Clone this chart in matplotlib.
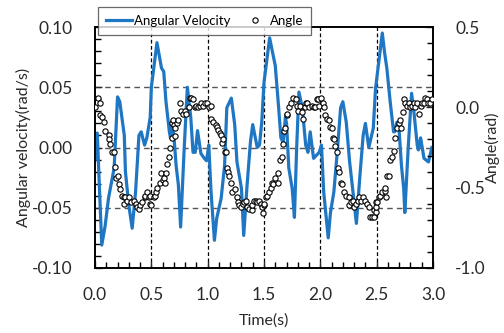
import matplotlib
matplotlib.use("Agg")
import matplotlib.pyplot as plt
from matplotlib.ticker import MultipleLocator

plt.rcParams['font.family'] = ['Lato', 'DejaVu Sans']

# Angular velocity (rad/s)
vel_t = [0.00, 0.02, 0.04, 0.06, 0.09, 0.12, 0.17, 0.20, 0.22, 0.26, 0.27, 0.30, 0.33, 0.36, 0.39,
         0.41, 0.44, 0.46, 0.49, 0.50, 0.55, 0.59, 0.61, 0.63, 0.66, 0.67, 0.68, 0.70, 0.72, 0.74,
         0.76, 0.79, 0.81, 0.82, 0.85, 0.87, 0.89, 0.91, 0.94, 0.97, 0.99, 1.01, 1.03, 1.06, 1.08,
         1.12, 1.15, 1.17, 1.21, 1.24, 1.26, 1.30, 1.32, 1.35, 1.38, 1.40, 1.44, 1.46, 1.48, 1.50,
         1.55, 1.58, 1.60, 1.63, 1.65, 1.67, 1.69, 1.70, 1.72, 1.75, 1.77, 1.79, 1.81, 1.84, 1.87,
         1.89, 1.91, 1.94, 1.97, 1.99, 2.01, 2.03, 2.07, 2.09, 2.12, 2.15, 2.18, 2.20, 2.23, 2.26,
         2.29, 2.32, 2.35, 2.38, 2.40, 2.43, 2.47, 2.49, 2.55, 2.57, 2.59, 2.62, 2.65, 2.66, 2.68,
         2.70, 2.72, 2.74, 2.75, 2.78, 2.81, 2.83, 2.86, 2.87, 2.89, 2.92, 2.96, 2.99]
vel_v = [-0.010, 0.012, -0.035, -0.081, -0.065, -0.042, -0.017, 0.042, 0.038, 0.010, -0.020, -0.048,
         -0.067, -0.037, 0.010, 0.013, 0.002, 0.008, 0.025, 0.050, 0.087, 0.066, 0.063, 0.038, 0.013,
         0.008, 0.019, 0.010, -0.015, -0.031, -0.066, -0.004, 0.033, 0.050, 0.025, -0.004, -0.004,
         0.014, -0.005, -0.009, -0.011, 0.002, -0.037, -0.077, -0.059, -0.042, -0.015, 0.033, 0.041,
         0.019, -0.012, -0.034, -0.073, -0.031, 0.005, 0.019, 0.000, 0.002, 0.021, 0.054, 0.091,
         0.077, 0.068, 0.033, 0.008, 0.004, 0.025, 0.020, -0.017, -0.034, -0.058, 0.000, 0.046,
         0.033, 0.002, -0.004, 0.013, -0.009, -0.006, -0.004, 0.002, -0.037, -0.075, -0.054, -0.037,
         -0.004, 0.033, 0.038, 0.021, -0.012, -0.037, -0.063, -0.025, 0.010, 0.020, 0.000, 0.016,
         0.049, 0.095, 0.079, 0.066, 0.038, 0.013, 0.013, 0.021, 0.013, -0.015, -0.034, -0.054,
         0.000, 0.045, 0.030, 0.002, -0.002, 0.008, -0.009, -0.012, 0.000]

# Angle (rad)
ang_t = [0.00, 0.03, 0.04, 0.04, 0.06, 0.08, 0.09, 0.12, 0.12, 0.13, 0.15, 0.17, 0.18, 0.19, 0.20,
         0.21, 0.22, 0.24, 0.26, 0.27, 0.26, 0.28, 0.30, 0.32, 0.35, 0.36, 0.37, 0.39, 0.40, 0.42,
         0.44, 0.44, 0.46, 0.48, 0.49,
         0.49, 0.50, 0.52, 0.53, 0.54, 0.55, 0.58, 0.59, 0.60, 0.61, 0.62, 0.63, 0.64, 0.66, 0.67,
         0.68, 0.68, 0.69, 0.70, 0.71, 0.71, 0.73, 0.74, 0.75, 0.76, 0.78, 0.80, 0.81, 0.83, 0.84,
         0.85, 0.87, 0.89, 0.90, 0.91, 0.93, 0.94, 0.96, 0.98, 0.99,
         1.01, 1.03, 1.03, 1.05, 1.07, 1.08, 1.09, 1.11, 1.12, 1.13, 1.14, 1.15, 1.16, 1.17, 1.18,
         1.19, 1.21, 1.22, 1.24, 1.26, 1.27, 1.28, 1.30, 1.31, 1.32, 1.34, 1.35, 1.37, 1.39, 1.39,
         1.41, 1.43, 1.44, 1.46, 1.47, 1.48, 1.50,
         1.49, 1.50, 1.52, 1.53, 1.54, 1.56, 1.57, 1.58, 1.60, 1.62, 1.62, 1.64, 1.66, 1.67, 1.68,
         1.69, 1.70, 1.70, 1.72, 1.74, 1.76, 1.78, 1.79, 1.80, 1.82, 1.84, 1.85, 1.86, 1.87, 1.88,
         1.90, 1.93, 1.94, 1.95, 1.97, 1.99,
         1.98, 2.01, 2.02, 2.03, 2.04, 2.06, 2.08, 2.09, 2.10, 2.11, 2.12, 2.13, 2.15, 2.16, 2.17,
         2.18, 2.19, 2.21, 2.23, 2.25, 2.25, 2.27, 2.29, 2.30, 2.32, 2.33, 2.34, 2.36, 2.38, 2.40,
         2.41, 2.43, 2.44, 2.46, 2.48, 2.49,
         2.48, 2.49, 2.49, 2.50, 2.52, 2.53, 2.55, 2.57, 2.57, 2.58, 2.59, 2.61, 2.62, 2.64, 2.65,
         2.66, 2.68, 2.70, 2.71, 2.72, 2.73, 2.74, 2.75, 2.77, 2.79, 2.80, 2.81, 2.83, 2.84, 2.86,
         2.88, 2.89, 2.90, 2.92, 2.93, 2.95, 2.96, 2.97, 2.99]
ang_a = [0.00, 0.06, 0.03, -0.05, -0.06, -0.09, -0.15, -0.17, -0.20, -0.23, -0.28, -0.28, -0.37, -0.44, -0.43,
         -0.48, -0.51, -0.55, -0.56, -0.56, -0.60, -0.58, -0.56, -0.59, -0.58, -0.60, -0.62, -0.63, -0.61, -0.59,
         -0.56, -0.55, -0.53, -0.56, -0.60,
         -0.55, -0.61, -0.56, -0.55, -0.53, -0.50, -0.47, -0.41, -0.45, -0.44, -0.47, -0.41, -0.35, -0.31, -0.25,
         -0.19, -0.10, -0.08, -0.11, -0.13, -0.18, -0.10, -0.08, 0.03, -0.02, -0.04, -0.02, -0.04, 0.00, 0.06,
         0.06, 0.05, 0.00, 0.01, 0.00, 0.01, 0.03, 0.01, 0.03, 0.03,
         0.00, 0.01, -0.07, -0.09, -0.11, -0.12, -0.14, -0.16, -0.17, -0.22, -0.20, -0.28, -0.28, -0.38, -0.40,
         -0.43, -0.47, -0.53, -0.51, -0.56, -0.59, -0.61, -0.62, -0.60, -0.59, -0.58, -0.62, -0.63, -0.64, -0.61,
         -0.58, -0.58, -0.59, -0.58, -0.60, -0.62, -0.61,
         -0.66, -0.60, -0.56, -0.55, -0.53, -0.50, -0.47, -0.48, -0.44, -0.47, -0.41, -0.33, -0.31, -0.23, -0.15,
         -0.13, -0.05, -0.04, 0.00, 0.03, 0.06, 0.05, 0.01, -0.02, 0.01, -0.03, -0.07, 0.00, 0.03, 0.03,
         0.00, 0.01, 0.00, 0.00, 0.05, 0.01,
         0.05, 0.06, 0.03, 0.00, -0.05, -0.07, -0.08, -0.12, -0.13, -0.19, -0.20, -0.24, -0.28, -0.38, -0.40,
         -0.47, -0.48, -0.53, -0.55, -0.56, -0.61, -0.59, -0.58, -0.62, -0.60, -0.58, -0.56, -0.58, -0.56, -0.58,
         -0.60, -0.62, -0.68, -0.68, -0.64, -0.59,
         -0.68, -0.65, -0.62, -0.59, -0.56, -0.55, -0.53, -0.52, -0.50, -0.56, -0.43, -0.43, -0.33, -0.31, -0.27,
         -0.19, -0.13, -0.10, -0.08, -0.13, -0.03, 0.05, 0.03, 0.01, 0.03, 0.00, 0.01, 0.03, 0.00, 0.03,
         -0.04, 0.01, 0.03, 0.03, 0.06, 0.05, 0.03, 0.03, 0.05]

x_ticks = [0.0, 0.5, 1.0, 1.5, 2.0, 2.5, 3.0]
left_ticks = [-0.10, -0.05, 0.00, 0.05, 0.10]
right_ticks = [-1.0, -0.5, 0.0, 0.5]

fig = plt.figure(figsize=(5.04, 3.33), dpi=100)
ax = fig.add_axes([95/504, 65/333, 338/504, 241/333])
ax2 = ax.twinx()

line, = ax.plot(vel_t, vel_v, color='#1f77c4', lw=2.3, label='Angular Velocity', zorder=3)
pts, = ax2.plot(ang_t, ang_a, ls='none', marker='o', ms=3.8, mfc='white', mec='black',
                mew=0.8, label='Angle', zorder=4)

ax.set_xlim(0, 3.0)
ax.set_ylim(-0.10, 0.10)
ax2.set_ylim(-1.0, 0.5)

ax.set_xticks(x_ticks)
ax.set_xticklabels([f"{v:.1f}" for v in x_ticks])
ax.set_yticks(left_ticks)
ax.set_yticklabels([f"{v:.2f}" for v in left_ticks])
ax2.set_yticks(right_ticks)
ax2.set_yticklabels([f"{v:.1f}" for v in right_ticks])
ax.xaxis.set_minor_locator(MultipleLocator(0.1))
ax.yaxis.set_minor_locator(MultipleLocator(0.01))
ax2.yaxis.set_minor_locator(MultipleLocator(0.1))

for a in (ax, ax2):
    a.tick_params(which='both', direction='in', color='black', width=1.0)
    a.tick_params(which='major', length=5, labelsize=12.5, colors='#2a2a2a')
    a.tick_params(which='minor', length=4)
    for s in a.spines.values():
        s.set_color('black')
        s.set_linewidth(1.2)
ax.tick_params(axis='x', which='major', pad=14)
ax.tick_params(axis='y', which='major', pad=16)
ax2.tick_params(axis='y', which='major', pad=16)

# grid lines
for xv in x_ticks[1:-1]:
    ax.axvline(xv, color='black', lw=0.9, ls=(0, (3, 2)), zorder=1)
for yv in left_ticks[1:-1]:
    ax.axhline(yv, color='#555555', lw=1.0, ls=(0, (4, 3)), zorder=1)

ax.set_xlabel('Time(s)', fontsize=11.5, color='#2a2a2a')
ax.set_ylabel('Angular velocity(rad/s)', fontsize=11.5, color='#2a2a2a')
ax2.set_ylabel('Angle(rad)', fontsize=11.5, color='#2a2a2a')
ax.xaxis.set_label_coords(0.5, -0.19)
ax.yaxis.set_label_coords(-0.19, 0.5)
ax2.yaxis.set_label_coords(1.155, 0.5)

leg = fig.legend(handles=[line, pts], labels=['Angular Velocity', 'Angle'], ncol=2,
                 loc='lower left', bbox_to_anchor=(98/504, 298/333), borderaxespad=0,
                 frameon=True, fancybox=False, edgecolor='#444444', fontsize=9.5,
                 borderpad=0.6, handlelength=2.0, columnspacing=0.8, handletextpad=0.15)
leg.get_frame().set_linewidth(0.9)
leg.set_zorder(10)

fig.savefig('out.png', dpi=100)
